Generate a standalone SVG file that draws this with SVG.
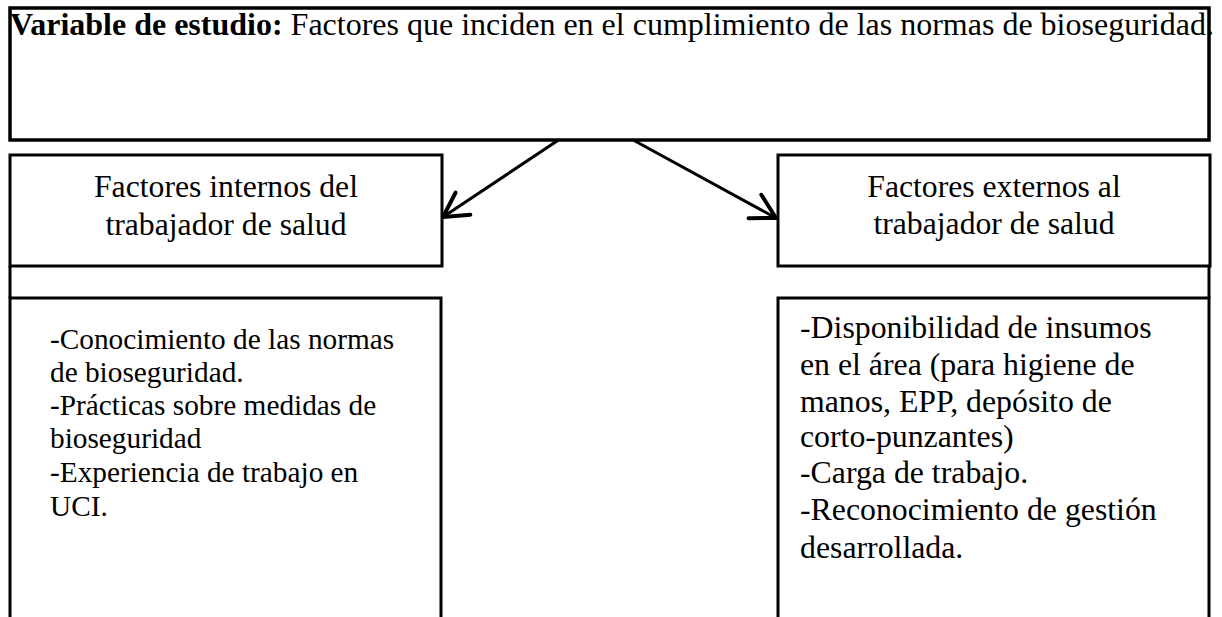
<svg xmlns="http://www.w3.org/2000/svg" width="1222" height="617" viewBox="0 0 1222 617">
<style>
.box{fill:none;stroke:#000;stroke-width:3}
.top{fill:none;stroke:#000;stroke-width:3.5}
.t{font-family:"Liberation Serif","Times New Roman",serif;fill:#000}
.conn{fill:none;stroke:#000;stroke-width:3;stroke-linecap:round}
</style>
<defs>
<marker id="arr" markerUnits="userSpaceOnUse" markerWidth="40" markerHeight="40" viewBox="-25 -15 30 30" refX="0" refY="0" orient="auto" overflow="visible">
<path d="M-18,-10 L0,0 L-18,10" fill="none" stroke="#000" stroke-width="3" stroke-linecap="round" stroke-linejoin="round"/>
</marker>
</defs>
<rect width="1222" height="617" fill="#fff"/>
<g id="variable">
<rect class="top" x="10" y="8" width="1199" height="132"/>
<text class="t" x="10" y="35" font-size="32"><tspan font-weight="bold">Variable de estudio:</tspan> Factores que inciden en el cumplimiento de las normas de bioseguridad.</text>
</g>
<g id="internos">
<rect class="box" x="10" y="155" width="432" height="111"/>
<text class="t" x="226" y="197" font-size="31.7" text-anchor="middle">Factores internos del</text>
<text class="t" x="226" y="235" font-size="31.7" text-anchor="middle">trabajador de salud</text>
</g>
<g id="externos">
<rect class="box" x="778" y="155" width="432" height="111"/>
<text class="t" x="994" y="197" font-size="31.7" text-anchor="middle">Factores externos al</text>
<text class="t" x="994" y="234" font-size="31.7" text-anchor="middle">trabajador de salud</text>
</g>
<g id="internos-detalle">
<line class="box" x1="10" y1="266" x2="10" y2="298"/>
<rect class="box" x="10" y="298" width="431" height="340"/>
<text class="t" font-size="29.3">
<tspan x="50" y="349">-Conocimiento de las normas</tspan>
<tspan x="50" y="382">de bioseguridad.</tspan>
<tspan x="50" y="415">-Prácticas sobre medidas de</tspan>
<tspan x="50" y="448">bioseguridad</tspan>
<tspan x="50" y="482">-Experiencia de trabajo en</tspan>
<tspan x="50" y="516">UCI.</tspan>
</text>
</g>
<g id="externos-detalle">
<line class="box" x1="1209" y1="266" x2="1209" y2="298"/>
<rect class="box" x="778" y="298" width="431" height="340"/>
<text class="t" font-size="31.8">
<tspan x="800" y="338">-Disponibilidad de insumos</tspan>
<tspan x="800" y="375">en el área (para higiene de</tspan>
<tspan x="800" y="412">manos, EPP, depósito de</tspan>
<tspan x="800" y="447">corto-punzantes)</tspan>
<tspan x="800" y="483">-Carga de trabajo.</tspan>
<tspan x="800" y="520">-Reconocimiento de gestión</tspan>
<tspan x="800" y="558">desarrollada.</tspan>
</text>
</g>
<g id="connectors">
<line class="conn" x1="557" y1="141" x2="443" y2="217" marker-end="url(#arr)"/>
<line class="conn" x1="635" y1="141" x2="776" y2="218" marker-end="url(#arr)"/>
</g>
</svg>
